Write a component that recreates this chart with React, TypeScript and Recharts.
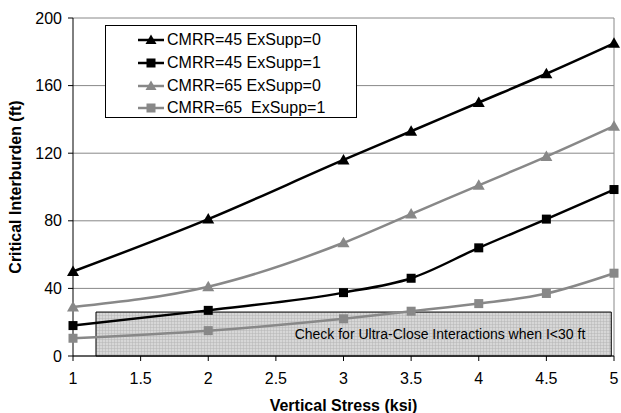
import React from "react";
import {
  ComposedChart,
  Line,
  XAxis,
  YAxis,
  CartesianGrid,
  ReferenceArea,
  ReferenceLine,
} from "recharts";

const stress = [1, 2, 3, 3.5, 4, 4.5, 5];
const cmrr45Ex0 = [50, 81, 116, 133, 150, 167, 185];
const cmrr45Ex1 = [18, 27, 37.5, 46, 64, 81, 98.5];
const cmrr65Ex0 = [29, 41, 67, 84, 101, 118, 136];
const cmrr65Ex1 = [10.5, 15, 22, 26.5, 31, 37, 49];

const xTicks = [1, 1.5, 2, 2.5, 3, 3.5, 4, 4.5, 5];
const yTicks = [0, 40, 80, 120, 160, 200];

// ultra-close zone box
const zoneX = [1.17, 4.98];
const zoneY = [0, 26];
const zoneText = "Check for Ultra-Close Interactions when I<30 ft";

const FONT = "'Liberation Sans', Arial, sans-serif";
const GRAY = "#888888";

const data = stress.map((s, i) => ({
  stress: s,
  a: cmrr45Ex0[i],
  b: cmrr45Ex1[i],
  c: cmrr65Ex0[i],
  d: cmrr65Ex1[i],
}));

const series = [
  { key: "a", name: "CMRR=45 ExSupp=0", color: "#000", shape: "tri" },
  { key: "b", name: "CMRR=45 ExSupp=1", color: "#000", shape: "sq" },
  { key: "c", name: "CMRR=65 ExSupp=0", color: GRAY, shape: "tri" },
  { key: "d", name: "CMRR=65  ExSupp=1", color: GRAY, shape: "sq" },
];

const Marker = ({ cx, cy, color, shape }: any) => {
  if (cx == null || cy == null) return null;
  if (shape === "tri") {
    return (
      <path
        d={`M${cx},${cy - 6} L${cx + 6},${cy + 4.5} L${cx - 6},${cy + 4.5} Z`}
        fill={color}
      />
    );
  }
  return <rect x={cx - 4.5} y={cy - 4.5} width={9} height={9} fill={color} />;
};

const LegendBox = () => (
  <div
    style={{
      position: "absolute",
      left: 105,
      top: 25,
      border: "1px solid #000",
      background: "#fff",
      width: 252,
      height: 93,
      boxSizing: "border-box",
      padding: "3px 0 0 32px",
      fontFamily: FONT,
      fontSize: 16,
    }}
  >
    {series.map((s) => (
      <div
        key={s.key}
        style={{ display: "flex", alignItems: "center", height: 22.7, whiteSpace: "pre" }}
      >
        <svg width={26} height={14} style={{ marginRight: 3 }}>
          <line x1={0} y1={7} x2={26} y2={7} stroke={s.color} strokeWidth={2.5} />
          {s.shape === "tri" ? (
            <path d="M13,1.5 L18.5,11 L7.5,11 Z" fill={s.color} />
          ) : (
            <rect x={8.5} y={2.5} width={9} height={9} fill={s.color} />
          )}
        </svg>
        <span>{s.name}</span>
      </div>
    ))}
  </div>
);

export default function App() {
  return (
    <div style={{ position: "absolute", left: 0, top: 0, background: "#fff" }}>
      <ComposedChart
        width={621}
        height={413}
        data={data}
        margin={{ top: 18, right: 7, bottom: 0, left: 0 }}
      >
        <defs>
          <pattern id="hatch" width={3} height={3} patternUnits="userSpaceOnUse">
            <rect width={3} height={3} fill="#d0d0d0" />
            <path d="M0,0 H3 M0,0 V3" stroke="#a8a8a8" strokeWidth={1} />
          </pattern>
        </defs>
        <CartesianGrid vertical={false} stroke={GRAY} />
        <XAxis
          dataKey="stress"
          type="number"
          domain={[1, 5]}
          ticks={xTicks}
          height={57}
          stroke="#000"
          tickSize={5}
          tickMargin={12}
          tick={{ fill: "#000", fontSize: 16, fontFamily: FONT }}
          label={{
            value: "Vertical Stress (ksi)",
            position: "insideBottom",
            offset: 2,
            style: { fontWeight: "bold", fontSize: 16, fontFamily: FONT, fill: "#000" },
          }}
        />
        <YAxis
          type="number"
          domain={[0, 200]}
          ticks={yTicks}
          width={73}
          stroke="#000"
          tickSize={5}
          tickMargin={6}
          tick={{ fill: "#000", fontSize: 16, fontFamily: FONT }}
          label={{
            value: "Critical Interburden (ft)",
            angle: -90,
            position: "insideLeft",
            offset: 15,
            style: {
              textAnchor: "middle",
              fontWeight: "bold",
              fontSize: 16,
              fontFamily: FONT,
              fill: "#000",
            },
          }}
        />
        <ReferenceLine x={5} stroke={GRAY} />
        {series.map((s) => (
          <Line
            key={s.key}
            type="monotone"
            dataKey={s.key}
            name={s.name}
            stroke={s.color}
            strokeWidth={2.5}
            dot={(p: any) => (
              <Marker key={`${s.key}-${p.index}`} cx={p.cx} cy={p.cy} color={s.color} shape={s.shape} />
            )}
            activeDot={false}
            isAnimationActive={false}
          />
        ))}
        <ReferenceArea
          x1={zoneX[0]}
          x2={zoneX[1]}
          y1={zoneY[0]}
          y2={zoneY[1]}
          fill="url(#hatch)"
          fillOpacity={0.85}
          stroke="#000"
          strokeWidth={1}
          ifOverflow="visible"
          label={{
            value: zoneText,
            position: "insideRight",
            offset: 26,
            fill: "#000",
            fontSize: 14,
            fontFamily: FONT,
          }}
        />
      </ComposedChart>
      <LegendBox />
    </div>
  );
}
